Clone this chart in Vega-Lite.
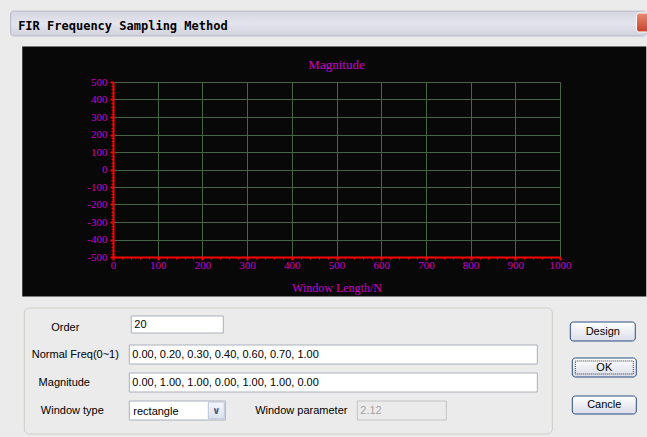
{
  "$schema": "https://vega.github.io/schema/vega-lite/v6.json",
  "background": "#ebebeb",
  "padding": {"left": 10, "top": 10, "right": 1, "bottom": 5},
  "spacing": 10,
  "title": {
    "text": "FIR Frequency Sampling Method",
    "anchor": "start",
    "frame": "bounds",
    "font": "DejaVu Sans Mono",
    "fontSize": 12,
    "fontWeight": "bold",
    "color": "#000000",
    "offset": -22,
    "dx": 8
  },
  "config": {"view": {"stroke": null}},
  "datasets": {
    "widgets": [
      {"name": "group", "kind": "frame", "x0": 2, "x1": 530, "y0": 0, "y1": 126},
      {"name": "Order", "kind": "field", "x0": 109, "x1": 201, "y0": 8, "y1": 25},
      {"name": "Normal Freq", "kind": "field", "x0": 107, "x1": 515, "y0": 37, "y1": 56},
      {"name": "Magnitude", "kind": "field", "x0": 107, "x1": 515, "y0": 65, "y1": 84},
      {"name": "Window type", "kind": "field", "x0": 107, "x1": 203, "y0": 93, "y1": 112},
      {"name": "Window type arrow", "kind": "arrow", "x0": 186, "x1": 202, "y0": 94, "y1": 111},
      {"name": "Window parameter", "kind": "disabled", "x0": 335, "x1": 424, "y0": 93, "y1": 112},
      {"name": "Design", "kind": "button", "x0": 548, "x1": 613, "y0": 14, "y1": 33},
      {"name": "OK", "kind": "button", "x0": 550, "x1": 614, "y0": 50, "y1": 69},
      {"name": "Cancle", "kind": "button", "x0": 550, "x1": 614, "y0": 88, "y1": 106},
      {"name": "OK focus", "kind": "focus", "x0": 553, "x1": 611, "y0": 53, "y1": 66}
    ],
    "texts": [
      {"text": "Order", "kind": "label", "x": 43, "y": 20},
      {"text": "Normal Freq(0~1)", "kind": "label", "x": 53, "y": 47},
      {"text": "Magnitude", "kind": "label", "x": 42, "y": 75},
      {"text": "Window type", "kind": "label", "x": 50, "y": 103},
      {"text": "Window parameter", "kind": "label", "x": 279, "y": 103},
      {"text": "20", "kind": "value", "x": 112, "y": 16.5},
      {"text": "0.00, 0.20, 0.30, 0.40, 0.60, 0.70, 1.00", "kind": "value", "x": 110, "y": 46.5},
      {"text": "0.00, 1.00, 1.00, 0.00, 1.00, 1.00, 0.00", "kind": "value", "x": 110, "y": 74.5},
      {"text": "rectangle", "kind": "value", "x": 111, "y": 103.5},
      {"text": "2.12", "kind": "disabledvalue", "x": 338, "y": 103},
      {"text": "∨", "kind": "arrowglyph", "x": 194, "y": 102.5},
      {"text": "Design", "kind": "label", "x": 580.5, "y": 23.5},
      {"text": "OK", "kind": "label", "x": 582, "y": 59.5},
      {"text": "Cancle", "kind": "label", "x": 582, "y": 97}
    ]
  },
  "vconcat": [
    {
      "width": 447,
      "height": 175,
      "view": {"stroke": null},
      "title": {
        "text": "Magnitude",
        "font": "Liberation Serif",
        "fontSize": 13,
        "fontWeight": "normal",
        "color": "#cc00cc",
        "offset": -61,
        "frame": "group"
      },
      "data": {"values": [{"series": "Magnitude"}]},
      "layer": [
        {
          "mark": {"type": "rect", "fill": {"gradient": "linear", "x1": 0, "y1": 0, "x2": 0, "y2": 1, "stops": [{"offset": 0, "color": "#d6d6e2"}, {"offset": 0.5, "color": "#e4e4ee"}, {"offset": 1, "color": "#d2d2de"}]}, "stroke": "#b8b8c8", "strokeWidth": 1, "cornerRadius": 3},
          "encoding": {
            "x": {"datum": -229, "type": "quantitative", "scale": {"domain": [0, 1000], "nice": false, "zero": false}},
            "x2": {"datum": 1193},
            "y": {"datum": 905, "type": "quantitative", "scale": {"domain": [-500, 500], "nice": false, "zero": false}},
            "y2": {"datum": 763}
          }
        },
        {
          "mark": {"type": "rect", "fill": {"gradient": "linear", "x1": 0, "y1": 0, "x2": 0, "y2": 1, "stops": [{"offset": 0, "color": "#e98a72"}, {"offset": 1, "color": "#c8412a"}]}, "stroke": "#ffffff", "strokeWidth": 1, "cornerRadius": 3},
          "encoding": {
            "x": {"datum": 1171, "type": "quantitative"},
            "x2": {"datum": 1200},
            "y": {"datum": 894, "type": "quantitative"},
            "y2": {"datum": 786}
          }
        },
        {
          "mark": {"type": "rect", "color": "#080808"},
          "encoding": {
            "x": {
              "datum": -203,
              "type": "quantitative",
              "scale": {"domain": [0, 1000], "nice": false, "zero": false},
              "axis": {
                "title": "Window Length/N",
                "titleFont": "Liberation Serif",
                "titleFontSize": 12,
                "titleFontWeight": "normal",
                "titleColor": "#cc00cc",
                "titlePadding": 12,
                "tickCount": 50,
                "labelExpr": "datum.value % 100 === 0 ? '' + datum.value : ''",
                "labelFont": "Liberation Serif",
                "labelFontSize": 11,
                "labelColor": "#cc00cc",
                "labelFlush": false,
                "labelOverlap": false,
                "labelPadding": -1,
                "domainColor": "#ff0000",
                "domainWidth": 2,
                "tickColor": "#ff0000",
                "tickSize": {"condition": {"test": "datum.value % 100 === 0", "value": 3}, "value": 2},
                "tickWidth": {"condition": {"test": "datum.value % 100 === 0", "value": 2}, "value": 1},
                "grid": true,
                "gridColor": "#476447",
                "gridWidth": 1,
                "gridOpacity": {"condition": {"test": "datum.value % 100 === 0", "value": 1}, "value": 0},
                "zindex": 1
              }
            },
            "x2": {"datum": 1193},
            "y": {
              "datum": 703,
              "type": "quantitative",
              "scale": {"domain": [-500, 500], "nice": false, "zero": false},
              "axis": {
                "title": null,
                "tickCount": 50,
                "labelExpr": "datum.value % 100 === 0 ? '' + datum.value : ''",
                "labelFont": "Liberation Serif",
                "labelFontSize": 11,
                "labelColor": "#cc00cc",
                "labelFlush": false,
                "labelOverlap": false,
                "labelPadding": 3,
                "domainColor": "#ff0000",
                "domainWidth": 2,
                "tickColor": "#ff0000",
                "tickSize": {"condition": {"test": "datum.value % 100 === 0", "value": 3}, "value": 2},
                "tickWidth": {"condition": {"test": "datum.value % 100 === 0", "value": 2}, "value": 1},
                "grid": true,
                "gridColor": "#476447",
                "gridWidth": 1,
                "gridOpacity": {"condition": {"test": "datum.value % 100 === 0", "value": 1}, "value": 0},
                "zindex": 1
              }
            },
            "y2": {"datum": -725}
          }
        }
      ]
    },
    {
      "width": 447,
      "height": 127,
      "view": {"stroke": null},
      "layer": [
        {
          "data": {"name": "widgets"},
          "transform": [{"filter": "datum.kind === 'frame'"}],
          "mark": {"type": "rect", "fill": null, "stroke": "#cfcfc8", "strokeWidth": 1, "cornerRadius": 5},
          "encoding": {
            "x": {"field": "x0", "type": "quantitative", "scale": {"domain": [90.7, 537.7], "nice": false, "zero": false}, "axis": null},
            "x2": {"field": "x1"},
            "y": {"field": "y0", "type": "quantitative", "scale": {"domain": [0, 127], "nice": false, "zero": false, "reverse": true}, "axis": null},
            "y2": {"field": "y1"}
          }
        },
        {
          "data": {"name": "widgets"},
          "transform": [{"filter": "datum.kind === 'field'"}],
          "mark": {"type": "rect", "fill": "#ffffff", "stroke": "#a9b1ba", "strokeWidth": 1},
          "encoding": {
            "x": {"field": "x0", "type": "quantitative"},
            "x2": {"field": "x1"},
            "y": {"field": "y0", "type": "quantitative"},
            "y2": {"field": "y1"}
          }
        },
        {
          "data": {"name": "widgets"},
          "transform": [{"filter": "datum.kind === 'disabled'"}],
          "mark": {"type": "rect", "fill": "#ebebeb", "stroke": "#c3c3c3", "strokeWidth": 1},
          "encoding": {
            "x": {"field": "x0", "type": "quantitative"},
            "x2": {"field": "x1"},
            "y": {"field": "y0", "type": "quantitative"},
            "y2": {"field": "y1"}
          }
        },
        {
          "data": {"name": "widgets"},
          "transform": [{"filter": "datum.kind === 'arrow'"}],
          "mark": {"type": "rect", "fill": {"gradient": "linear", "x1": 0, "y1": 0, "x2": 0, "y2": 1, "stops": [{"offset": 0, "color": "#f4f6fb"}, {"offset": 1, "color": "#d9e0ee"}]}, "stroke": "#b9c3d6", "strokeWidth": 1, "cornerRadius": 1},
          "encoding": {
            "x": {"field": "x0", "type": "quantitative"},
            "x2": {"field": "x1"},
            "y": {"field": "y0", "type": "quantitative"},
            "y2": {"field": "y1"}
          }
        },
        {
          "data": {"name": "widgets"},
          "transform": [{"filter": "datum.kind === 'button'"}],
          "mark": {"type": "rect", "fill": {"gradient": "linear", "x1": 0, "y1": 0, "x2": 0, "y2": 1, "stops": [{"offset": 0, "color": "#ffffff"}, {"offset": 1, "color": "#dadde8"}]}, "stroke": "#2b4c80", "strokeWidth": 1, "cornerRadius": 3},
          "encoding": {
            "x": {"field": "x0", "type": "quantitative"},
            "x2": {"field": "x1"},
            "y": {"field": "y0", "type": "quantitative"},
            "y2": {"field": "y1"}
          }
        },
        {
          "data": {"name": "widgets"},
          "transform": [{"filter": "datum.kind === 'focus'"}],
          "mark": {"type": "rect", "fill": null, "stroke": "#333333", "strokeWidth": 1, "strokeDash": [1, 1]},
          "encoding": {
            "x": {"field": "x0", "type": "quantitative"},
            "x2": {"field": "x1"},
            "y": {"field": "y0", "type": "quantitative"},
            "y2": {"field": "y1"}
          }
        },
        {
          "data": {"name": "texts"},
          "transform": [{"filter": "datum.kind === 'label'"}],
          "mark": {"type": "text", "font": "Liberation Sans", "fontSize": 11, "color": "#000000", "align": "center", "baseline": "middle"},
          "encoding": {
            "x": {"field": "x", "type": "quantitative"},
            "y": {"field": "y", "type": "quantitative"},
            "text": {"field": "text"}
          }
        },
        {
          "data": {"name": "texts"},
          "transform": [{"filter": "datum.kind === 'value'"}],
          "mark": {"type": "text", "font": "Liberation Sans", "fontSize": 11, "color": "#000000", "align": "left", "baseline": "middle"},
          "encoding": {
            "x": {"field": "x", "type": "quantitative"},
            "y": {"field": "y", "type": "quantitative"},
            "text": {"field": "text"}
          }
        },
        {
          "data": {"name": "texts"},
          "transform": [{"filter": "datum.kind === 'disabledvalue'"}],
          "mark": {"type": "text", "font": "Liberation Sans", "fontSize": 11, "color": "#a3a3a3", "align": "left", "baseline": "middle"},
          "encoding": {
            "x": {"field": "x", "type": "quantitative"},
            "y": {"field": "y", "type": "quantitative"},
            "text": {"field": "text"}
          }
        },
        {
          "data": {"name": "texts"},
          "transform": [{"filter": "datum.kind === 'arrowglyph'"}],
          "mark": {"type": "text", "font": "DejaVu Sans", "fontSize": 10, "fontWeight": "bold", "color": "#4d6185", "align": "center", "baseline": "middle"},
          "encoding": {
            "x": {"field": "x", "type": "quantitative"},
            "y": {"field": "y", "type": "quantitative"},
            "text": {"field": "text"}
          }
        }
      ]
    }
  ]
}
